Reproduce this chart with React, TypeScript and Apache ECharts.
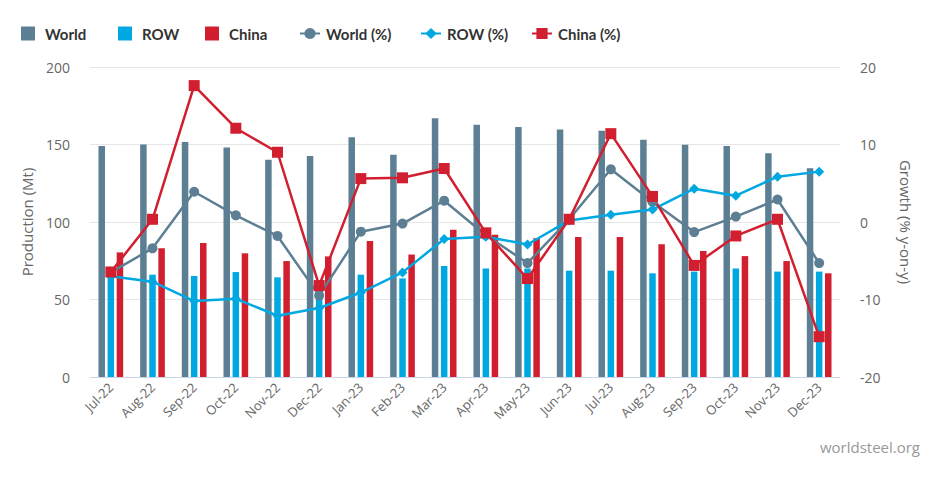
import React, { useEffect, useRef } from "react";
import * as echarts from "echarts";

const categories = ["Jul-22","Aug-22","Sep-22","Oct-22","Nov-22","Dec-22","Jan-23","Feb-23","Mar-23","Apr-23","May-23","Jun-23","Jul-23","Aug-23","Sep-23","Oct-23","Nov-23","Dec-23"];
const worldProd = [149, 150, 151.6, 148, 140.2, 142.6, 154.6, 143.4, 166.9, 162.8, 161.3, 159.6, 158.9, 153.1, 149.9, 149, 144.3, 134.6];
const rowProd = [66, 66, 65.2, 67.7, 64.3, 58, 66, 63.6, 71.6, 70, 70, 68.6, 68.6, 66.9, 68, 70, 68, 68];
const chinaProd = [80.4, 83, 86.5, 79.8, 74.8, 77.8, 87.7, 79, 95, 91.8, 89.5, 90.3, 90.3, 85.6, 81.3, 78, 74.8, 66.9];
const worldPct = [-6.5, -3.4, 3.9, 0.86, -1.8, -9.5, -1.25, -0.2, 2.75, -1.7, -5.3, 0.35, 6.8, 2.6, -1.3, 0.7, 2.9, -5.3];
const rowPct = [-7.0, -7.7, -10.2, -9.9, -12.1, -11.1, -9.1, -6.5, -2.2, -1.9, -2.9, 0.2, 0.95, 1.6, 4.3, 3.4, 5.85, 6.5];
const chinaPct = [-6.45, 0.35, 17.6, 12.1, 9.0, -8.2, 5.6, 5.7, 6.9, -1.4, -7.3, 0.35, 11.4, 3.3, -5.6, -1.8, 0.35, -14.8];
const leftTicks = { min: 0, max: 200, interval: 50 };
const rightTicks = { min: -20, max: 20, interval: 10 };
const legendNames = ["World", "ROW", "China", "World (%)", "ROW (%)", "China (%)"];

const C_WORLD = "#5d7f93";
const C_ROW = "#00a8e1";
const C_CHINA = "#d11f2f";
const FONT = "'Open Sans', 'DejaVu Sans', sans-serif";
const LEGEND_FONT = "Lato, 'Open Sans', sans-serif";

export default function App() {
  const ref = useRef<HTMLDivElement>(null);
  useEffect(() => {
    if (!ref.current) return;
    const chart = echarts.init(ref.current, null, { renderer: "svg" });
    const barCommon = { type: "bar", barWidth: 6.5, barGap: "40%", barCategoryGap: "42%", yAxisIndex: 0 };
    const legendLefts = [13, 110, 197, 291, 412, 523];
    const legends = legendNames.map((n, i) => {
      const isBar = i < 3;
      return {
        left: legendLefts[i],
        top: 18,
        padding: 0,
        itemWidth: isBar ? 14 : 20,
        itemHeight: 14,
        data: isBar ? [{ name: n, icon: "rect" }] : [{ name: n }],
        textStyle: {
          fontSize: 15,
          fontWeight: "bold",
          color: "#333",
          fontFamily: LEGEND_FONT,
          padding: isBar ? [0, 0, 0, 5] : [0, 0, 0, 1],
        },
      };
    });
    chart.setOption({
      animation: false,
      textStyle: { fontFamily: FONT },
      legend: legends,
      grid: { left: 82, right: 109, top: 59, bottom: 112, containLabel: false },
      xAxis: {
        type: "category",
        data: categories,
        axisLine: { lineStyle: { color: "#ccd6eb", width: 1 } },
        axisTick: { show: false },
        axisLabel: { rotate: 45, fontSize: 13, color: "#666", margin: 8, fontFamily: FONT },
      },
      yAxis: [
        {
          type: "value",
          ...leftTicks,
          name: "Production (Mt)",
          nameLocation: "middle",
          nameGap: 56,
          nameTextStyle: { fontSize: 15, color: "#666", fontFamily: FONT },
          axisLabel: { fontSize: 14, color: "#666", margin: 20, fontFamily: FONT },
          splitLine: { lineStyle: { color: "#e6e6e6" } },
        },
        {
          type: "value",
          ...rightTicks,
          position: "right",
          name: "Growth (% y-on-y)",
          nameLocation: "middle",
          nameRotate: -90,
          nameGap: 58,
          nameTextStyle: { fontSize: 15, color: "#666", fontFamily: FONT },
          axisLabel: { fontSize: 14, color: "#666", margin: 20, fontFamily: FONT },
          splitLine: { show: false },
        },
      ],
      series: [
        { ...barCommon, name: "World", data: worldProd, itemStyle: { color: C_WORLD } },
        { ...barCommon, name: "ROW", data: rowProd, itemStyle: { color: C_ROW } },
        { ...barCommon, name: "China", data: chinaProd, itemStyle: { color: C_CHINA } },
        {
          type: "line", name: "World (%)", yAxisIndex: 1, data: worldPct,
          symbol: "circle", symbolSize: 10,
          lineStyle: { color: C_WORLD, width: 2.5 }, itemStyle: { color: C_WORLD },
        },
        {
          type: "line", name: "ROW (%)", yAxisIndex: 1, data: rowPct,
          symbol: "diamond", symbolSize: 10,
          lineStyle: { color: C_ROW, width: 2.5 }, itemStyle: { color: C_ROW },
        },
        {
          type: "line", name: "China (%)", yAxisIndex: 1, data: chinaPct,
          symbol: "rect", symbolSize: 11,
          lineStyle: { color: C_CHINA, width: 2.5 }, itemStyle: { color: C_CHINA },
        },
      ],
      graphic: [
        {
          type: "text", right: 29, bottom: 35,
          style: { text: "worldsteel.org", fontSize: 15, fill: "#999", fontFamily: FONT },
        },
      ],
    });
    return () => chart.dispose();
  }, []);
  return <div ref={ref} style={{ width: 941, height: 481 }} />;
}
